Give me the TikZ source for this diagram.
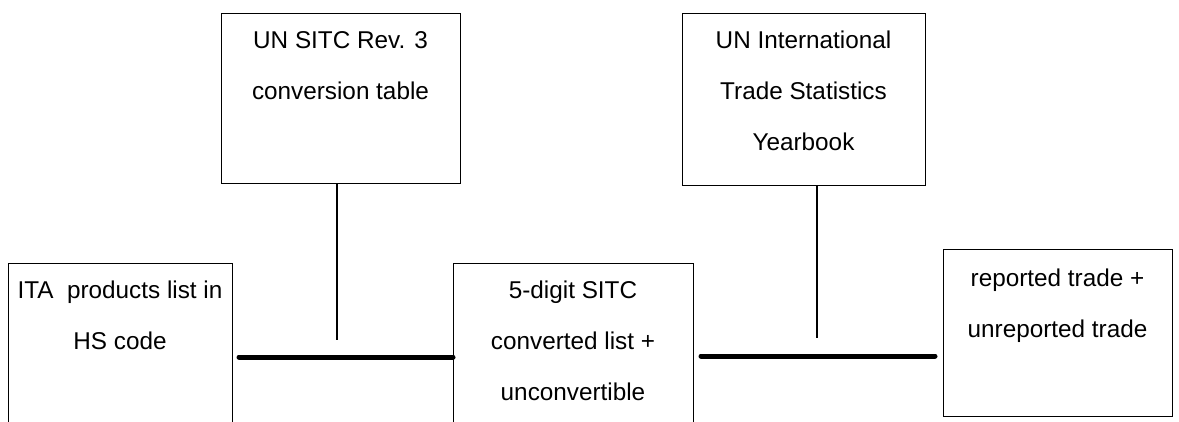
\documentclass[tikz,border=0pt]{standalone}
\usepackage{fontspec}
\setmainfont{Liberation Sans}
\begin{document}
\begin{tikzpicture}[x=1pt,y=-1pt,
  box/.style={draw=black, line width=1.3pt, anchor=north west, inner sep=0pt},
  txt/.style={anchor=north, inner sep=0pt, align=center, font=\fontsize{24.3}{51}\selectfont},
  vline/.style={draw=black, line width=2.6pt},
  bar/.style={draw=black, line width=5pt, line cap=round}]
\useasboundingbox (0,0) rectangle (1179,421);
% boxes
\node[box, minimum width=224pt, minimum height=200pt] (A) at (8,263) {};
\node[box, minimum width=239pt, minimum height=170pt] (B) at (221,13) {};
\node[box, minimum width=240pt, minimum height=200pt] (C) at (453,263) {};
\node[box, minimum width=243pt, minimum height=172pt] (E) at (682,13) {};
\node[box, minimum width=229pt, minimum height=167pt] (D) at (943,249) {};
% texts
\node[txt] (At) at (120,281) {ITA\ \ products list in\\HS code};
\node[txt] (Bt) at (340.5,31) {UN SITC Rev. 3\\conversion table};
\node[txt] (Ct) at (573,281) {5-digit SITC\\converted list +\\unconvertible};
\node[txt] (Et) at (803.5,31) {UN International\\Trade Statistics\\Yearbook};
\node[txt] (Dt) at (1057.5,269) {reported trade +\\unreported trade};
% connectors
\coordinate (Bdrop) at (337,340);
\coordinate (Edrop) at (817,338);
\draw[vline] (B.south -| Bdrop) -- (Bdrop);
\draw[vline] (E.south -| Edrop) -- (Edrop);
\coordinate (Lstart) at (239,357);
\draw[bar] (Lstart) -- (Lstart -| C.west);
\coordinate (Rstart) at (701,356);
\coordinate (Rend) at (935,356);
\draw[bar] (Rstart) -- (Rend);
\end{tikzpicture}
\end{document}
